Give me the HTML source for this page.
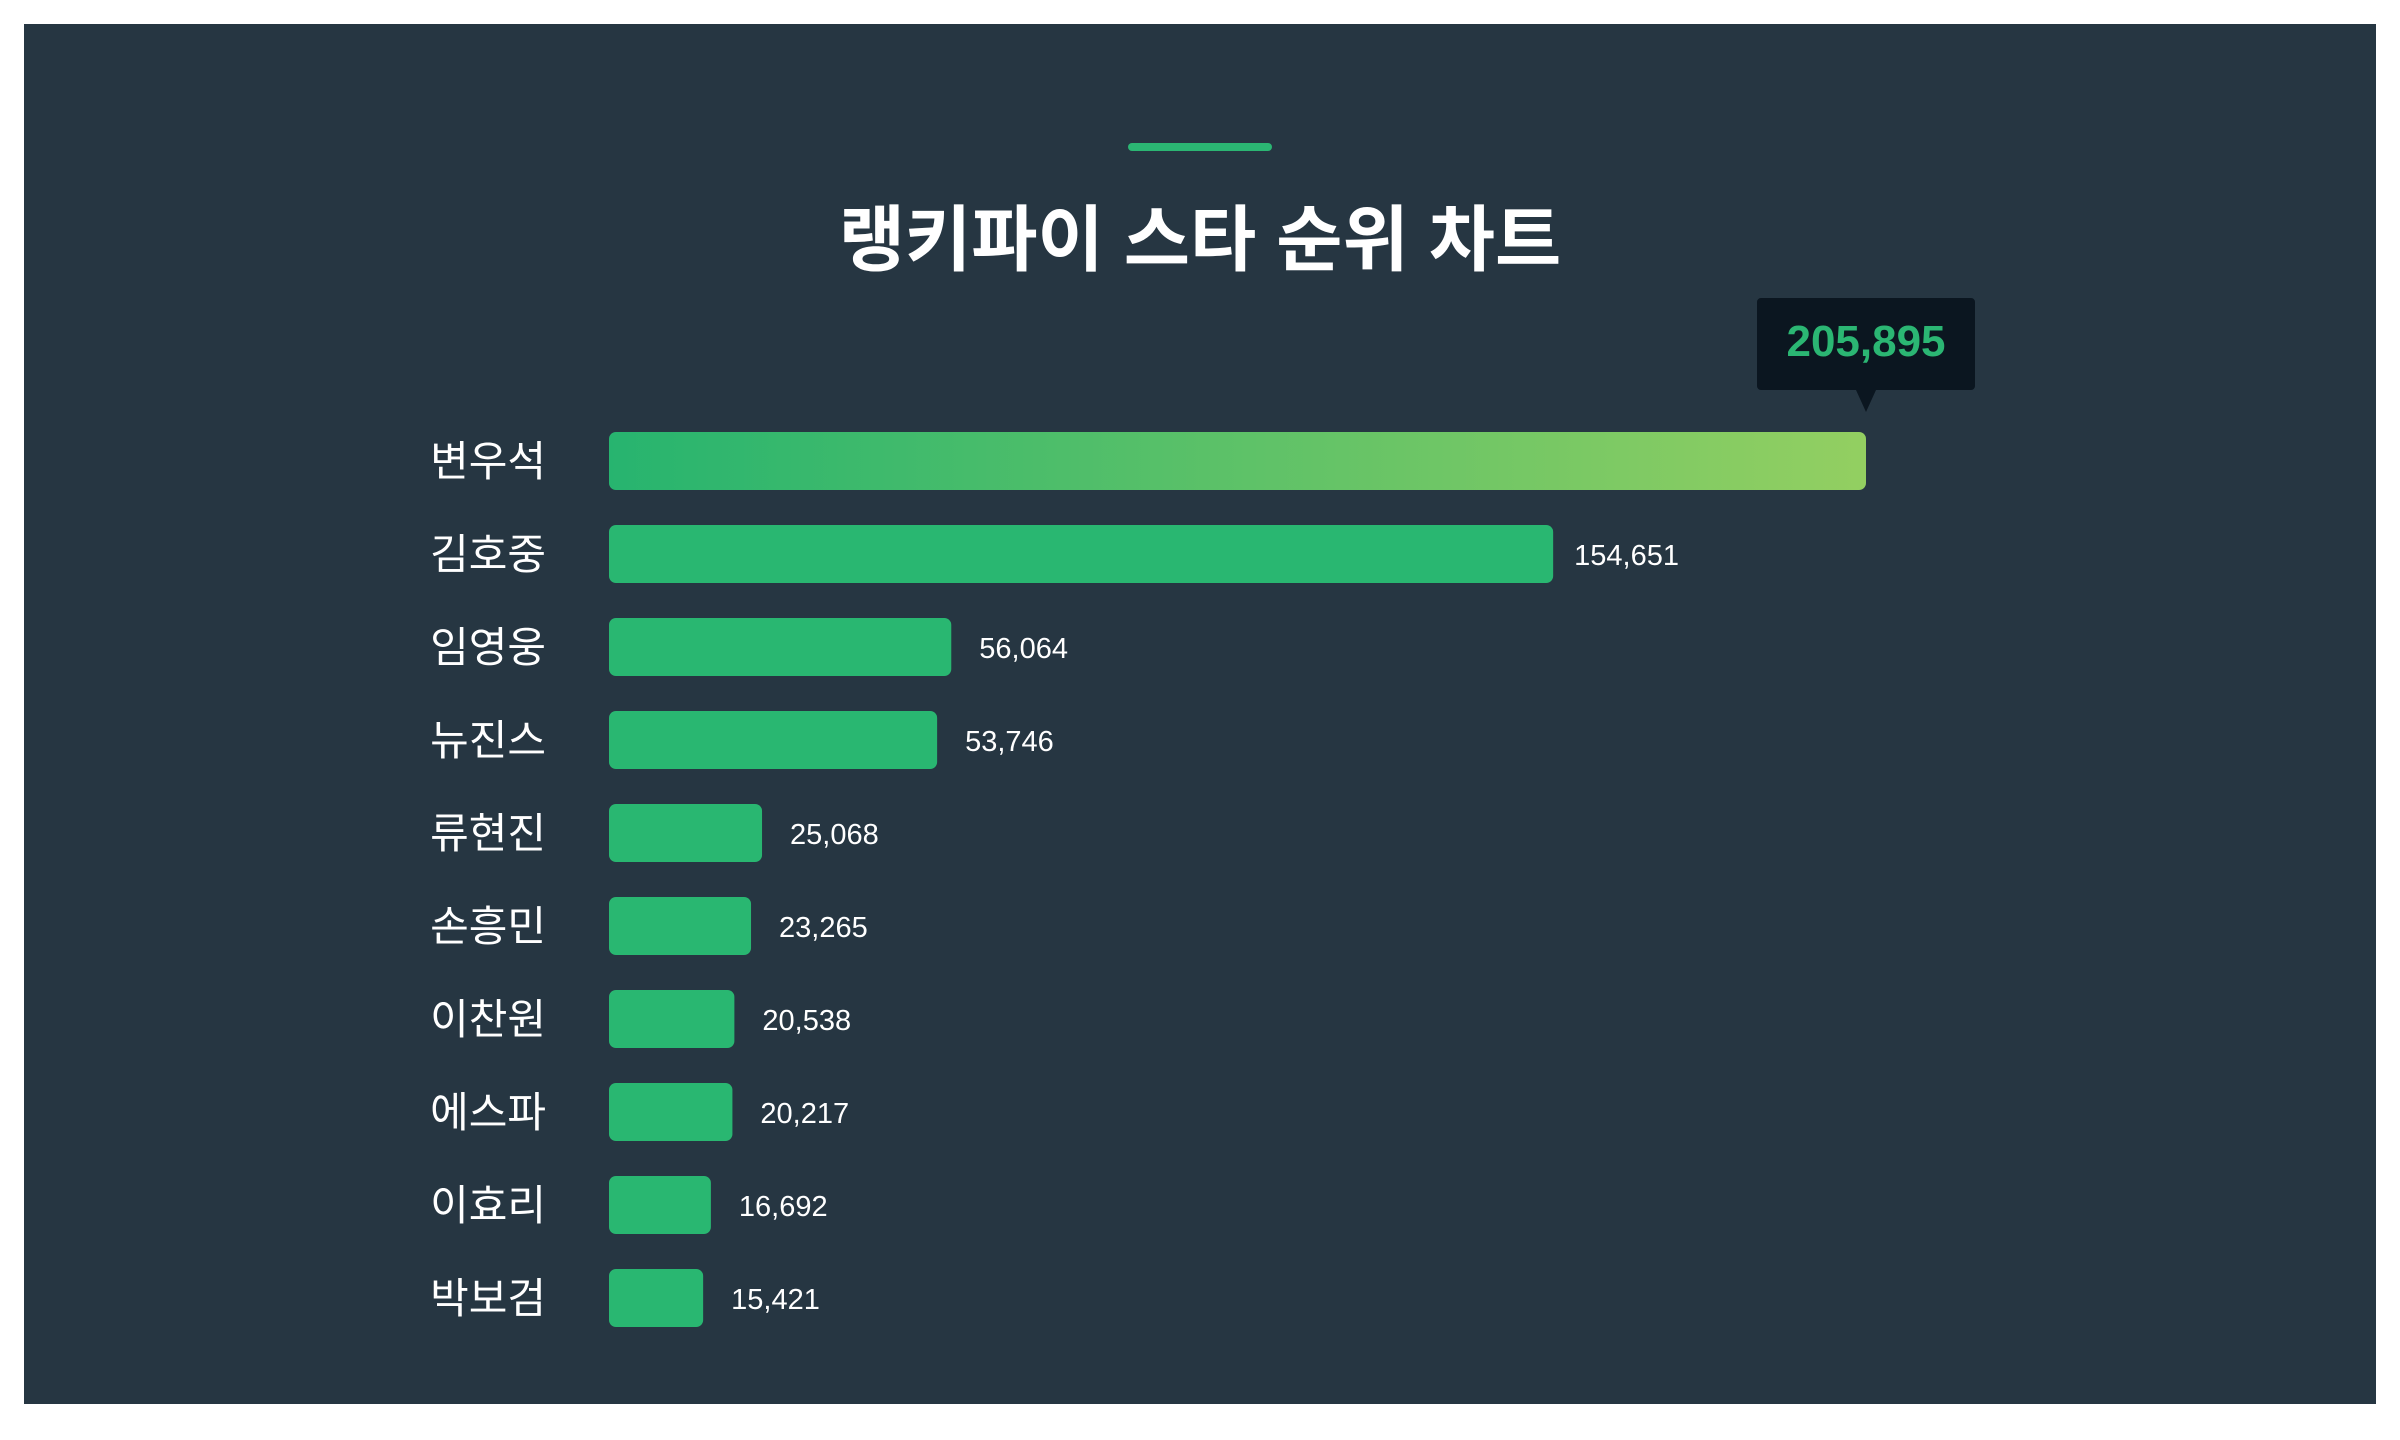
<!DOCTYPE html>
<html><head><meta charset="utf-8"><style>
html,body{margin:0;padding:0;background:#fff;width:2400px;height:1440px;overflow:hidden}
svg{display:block}
</style></head><body>
<svg width="2400" height="1440" viewBox="0 0 2400 1440" xmlns="http://www.w3.org/2000/svg">
<defs>
<linearGradient id="g1" x1="0" x2="1" y1="0" y2="0">
<stop offset="0" stop-color="#27b46f"/><stop offset="1" stop-color="#93cf61"/>
</linearGradient>
</defs>
<rect x="24" y="24" width="2352" height="1380" fill="#263642"/>
<rect x="1128" y="143" width="144" height="8" rx="4" fill="#2bb673"/>
<text x="1200" y="265" text-anchor="middle" font-family="'Liberation Sans','Noto Sans CJK KR',sans-serif" font-weight="bold" font-size="72" fill="#ffffff">랭키파이 스타 순위 차트</text>
<g id="bars"></g>
</svg>
<script>
const categories = ["변우석","김호중","임영웅","뉴진스","류현진","손흥민","이찬원","에스파","이효리","박보검"];
const values = [205895,154651,56064,53746,25068,23265,20538,20217,16692,15421];
const valueLabels = ["205,895","154,651","56,064","53,746","25,068","23,265","20,538","20,217","16,692","15,421"];

const NS = "http://www.w3.org/2000/svg";
const x0 = 609, xMaxPx = 1257, maxV = values[0];
const xScale = v => v / maxV * xMaxPx;
const rowY = i => 432 + i * 93;
const barH = 58;
const g = document.getElementById('bars');
const FONT = "'Liberation Sans','Noto Sans CJK KR',sans-serif";
function mk(tag, attrs){const e=document.createElementNS(NS,tag);for(const k in attrs)e.setAttribute(k,attrs[k]);return e;}

categories.forEach((c,i)=>{
  const y = rowY(i), w = xScale(values[i]);
  const lab = mk('text',{x:546,y:y+barH/2+15,'text-anchor':'end','font-family':FONT,'font-size':42,fill:'#ffffff'});
  lab.textContent = c;
  
  
  g.appendChild(lab);
  const bar = mk('rect',{x:x0,y:y,width:w,height:barH,rx:7,fill:i===0?'url(#g1)':'#29b771'});
  
  
  g.appendChild(bar);
  if(i===0){
    const cx = x0 + w;
    const tip = mk('path',{d:`M${cx-105} 298 H${cx+105} a4 4 0 0 1 4 4 V386 a4 4 0 0 1 -4 4 H${cx+10} L${cx} 412 L${cx-10} 390 H${cx-105} a4 4 0 0 1 -4 -4 V302 a4 4 0 0 1 4 -4 Z`,fill:'#0b1620'});
    
    
    g.appendChild(tip);
    const tt = mk('text',{x:cx,y:356,'text-anchor':'middle','font-family':FONT,'font-weight':'bold','font-size':44,fill:'#2bb673'});
    tt.textContent = valueLabels[i];
    
    
    g.appendChild(tt);
  } else {
    const vt = mk('text',{x:x0+w+(i===1?21:28),y:y+barH/2+11,'font-family':FONT,'font-size':29,fill:'#ffffff'});
    vt.textContent = valueLabels[i];
    
    
    g.appendChild(vt);
  }
});
</script>
</body></html>
